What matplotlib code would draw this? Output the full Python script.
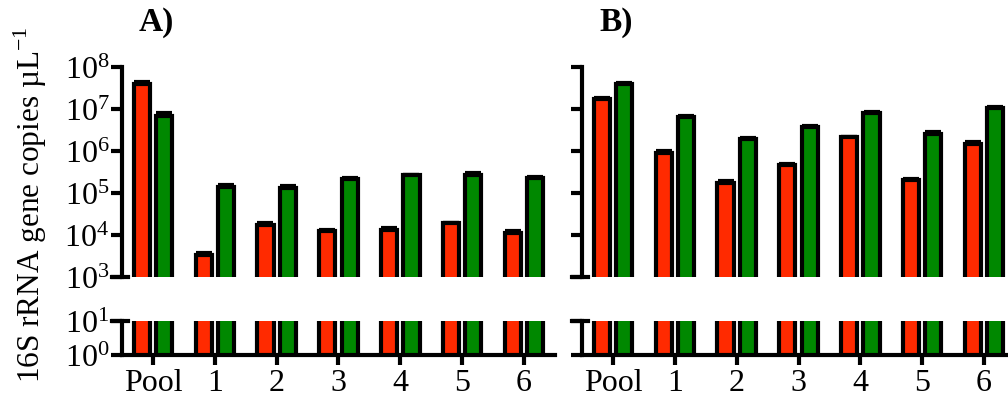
import numpy as np
import matplotlib.pyplot as plt
from matplotlib.lines import Line2D

plt.rcParams['font.family'] = ['Liberation Serif', 'DejaVu Serif']
plt.rcParams['mathtext.fontset'] = 'custom'
plt.rcParams['mathtext.rm'] = 'Liberation Serif'

# samples on the x axis
groups = ['Pool', '1', '2', '3', '4', '5', '6']

# copies per uL, panel A
a_red = [4.0e7, 3.3e3, 1.7e4, 1.25e4, 1.3e4, 1.9e4, 1.1e4]
a_red_err = [0.5e7, 0.3e3, 0.25e4, 0.05e4, 0.15e4, 0.05e4, 0.15e4]
a_green = [7.0e6, 1.4e5, 1.3e5, 2.15e5, 2.6e5, 2.6e5, 2.2e5]
a_green_err = [1.0e6, 0.1e5, 0.15e5, 0.1e5, 0.1e5, 0.3e5, 0.2e5]

# copies per uL, panel B
b_red = [1.75e7, 9.0e5, 1.75e5, 4.6e5, 2.1e6, 2.0e5, 1.5e6]
b_red_err = [0.1e7, 1.0e5, 0.15e5, 0.2e5, 0.1e6, 0.1e5, 0.1e6]
b_green = [4.1e7, 6.6e6, 1.95e6, 3.7e6, 8.0e6, 2.6e6, 1.05e7]
b_green_err = [0.2e7, 0.3e6, 0.1e6, 0.3e6, 0.4e6, 0.2e6, 0.5e6]

RED = '#ff2a00'
GREEN = '#008800'
LW = 3.0
W = 0.26
OFF = 0.18
FS = 23

fig = plt.figure(figsize=(10.08, 4.02), dpi=100)


def draw_bars(ax, red, red_err, green, green_err):
    x = np.arange(len(groups))
    for xs, vals, errs, col in [(x - OFF, red, red_err, RED), (x + OFF, green, green_err, GREEN)]:
        eb = ax.errorbar(xs, vals, yerr=[np.zeros(len(vals)), errs], fmt='none',
                         ecolor='black', elinewidth=LW, capsize=6, capthick=LW, zorder=2)
        for cap in eb[1]:
            cap.set_solid_capstyle('round')
        ax.bar(xs, np.array(vals) - 1, bottom=1, width=W, color=col,
               edgecolor='black', linewidth=LW, zorder=3)
    ax.set_xlim(-0.5, 6.5)
    ax.set_yscale('log')


def panel(left, title, data, show_labels):
    width = 0.4296
    up = fig.add_axes([left, 0.3097, width, 0.5204])
    lo = fig.add_axes([left, 0.1144, width, 0.0853])
    draw_bars(up, *data)
    draw_bars(lo, *data)
    up.set_ylim(1e3, 1e8)
    lo.set_ylim(1e0, 1e1)
    up.set_yticks([10.0 ** k for k in range(3, 9)])
    lo.set_yticks([1e0, 1e1])
    up.minorticks_off()
    lo.minorticks_off()
    for ax in (up, lo):
        for s in ('top', 'right'):
            ax.spines[s].set_visible(False)
        ax.spines['left'].set_linewidth(LW)
        ax.tick_params(axis='y', length=8, width=LW, labelsize=FS, pad=1)
    up.spines['bottom'].set_visible(False)
    up.set_xticks([])
    lo.spines['bottom'].set_linewidth(LW)
    lo.set_xticks(np.arange(len(groups)))
    lo.set_xticklabels(groups)
    lo.tick_params(axis='x', length=7, width=LW, labelsize=FS, pad=2)
    if not show_labels:
        up.set_yticklabels([])
        lo.set_yticklabels([])
    # short marks where the axis is broken
    up.add_line(Line2D([-0.022, 0.013], [0, 0], transform=up.transAxes,
                       color='black', lw=LW, clip_on=False))
    lo.add_line(Line2D([-0.022, 0.013], [1, 1], transform=lo.transAxes,
                       color='black', lw=LW, clip_on=False))
    up.text(0.08, 1.22, title, transform=up.transAxes, fontsize=24,
            fontweight='bold', ha='center', va='center')
    return up, lo


panel(0.121, 'A)', (a_red, a_red_err, a_green, a_green_err), True)
panel(0.5774, 'B)', (b_red, b_red_err, b_green, b_green_err), False)

fig.text(0.030, 0.49, r'16S rRNA gene copies µL$^{\mathregular{-1}}$', rotation=90,
         fontsize=22.5, ha='center', va='center')

fig.savefig('out.png', dpi=100)
